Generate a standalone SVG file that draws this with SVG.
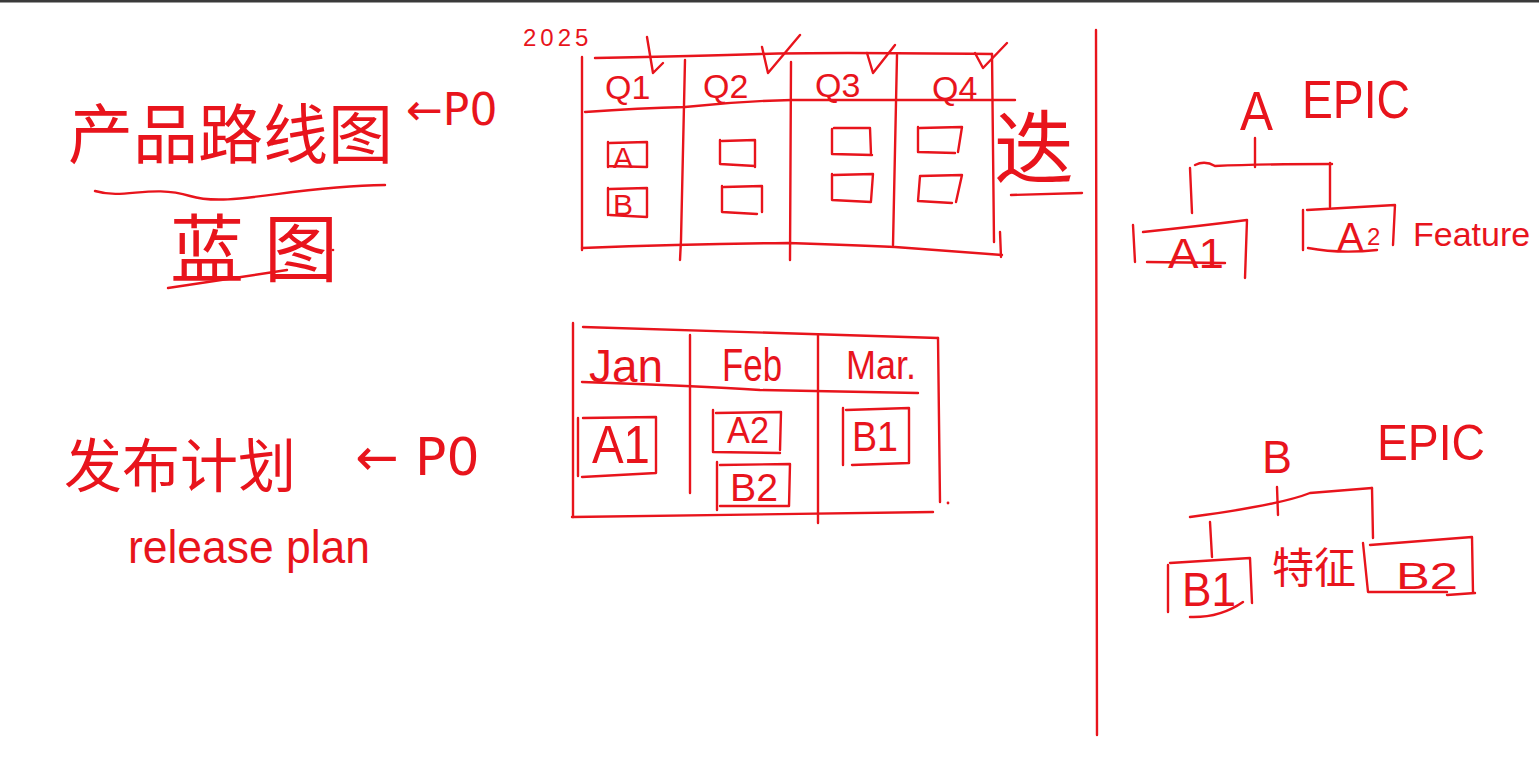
<svg xmlns="http://www.w3.org/2000/svg" width="1539" height="766" viewBox="0 0 1539 766">
<style>
.s{fill:none;stroke:#e8141c;stroke-width:2.4;stroke-linecap:round;stroke-linejoin:round}
.t{fill:#e8141c;font-family:"Liberation Sans",Arial,sans-serif}
.c{fill:#e8141c;font-family:"Noto Sans CJK SC","Noto Sans CJK TC",sans-serif;font-weight:400}
.d{fill:#e8141c;font-family:"DejaVu Sans",sans-serif}
</style>
<rect x="0" y="0" width="1539" height="766" fill="#ffffff"/>
<rect x="0" y="0" width="1539" height="2.5" fill="#3a3a3a"/>

<g id="divider">
<path class="s" d="M1096,30 L1097,735"/>
</g>

<g id="roadmap-title">
<text class="c" x="68" y="158" font-size="65" letter-spacing="0">产品路线图</text>
<path class="s" d="M95,191 C125,200 150,184 190,196 S290,186 385,185"/>
<text class="d" x="406" y="125" font-size="44">←P0</text>
<text class="c" x="170" y="276" font-size="74" letter-spacing="20">蓝图</text>
<path class="s" d="M168,288 L287,270"/>
<circle cx="333" cy="250" r="1.3" fill="#e8141c"/>
</g>

<g id="release-title">
<text class="c" x="64" y="487" font-size="58">发布计划</text>
<text class="d" x="355" y="475" font-size="52">← P0</text>
<text class="t" x="128" y="563" font-size="46" textLength="242" lengthAdjust="spacingAndGlyphs">release plan</text>
</g>

<g id="quarter-table">
<text class="t" x="523" y="46" font-size="24" letter-spacing="4">2025</text>
<path class="s" d="M582,57 L582,250"/>
<path class="s" d="M595,58 Q700,56 760,54 T992,54"/>
<path class="s" d="M992,54 L994,242"/>
<path class="s" d="M1000,232 L1001,257"/>
<path class="s" d="M585,112 Q640,108 685,107 Q740,101 792,100 L1015,100"/>
<path class="s" d="M685,60 L681,240 L680,260"/>
<path class="s" d="M791,62 L790,260"/>
<path class="s" d="M897,55 L893,245"/>
<path class="s" d="M582,248 Q690,244 788,243 Q850,245 895,247 L1002,255"/>
<text class="t" x="605" y="99" font-size="34">Q1</text>
<text class="t" x="703" y="98" font-size="34">Q2</text>
<text class="t" x="815" y="97" font-size="34">Q3</text>
<text class="t" x="932" y="100" font-size="34">Q4</text>
<path class="s" d="M647,37 L653,73 L663,63"/>
<path class="s" d="M762,47 L768,73 L800,35"/>
<path class="s" d="M867,53 L873,73 L895,45"/>
<path class="s" d="M975,53 L983,68 L1007,43"/>
<path class="s" d="M608,142 L608,167 M610,143 L647,142 L647,167 L608,166"/>
<text class="t" x="613" y="168" font-size="30">A</text>
<path class="s" d="M608,188 L608,215 M610,189 L647,188 L647,217 L610,215"/>
<text class="t" x="613" y="215" font-size="30">B</text>
<path class="s" d="M720,140 L720,164 L755,166 M722,141 L755,140 L755,167"/>
<path class="s" d="M722,186 L722,212 L757,214 M724,187 L762,186 L762,212"/>
<path class="s" d="M832,129 L832,154 L872,155 M834,128 L870,128 L871,154"/>
<path class="s" d="M832,174 L832,200 L871,202 M834,175 L873,174 L871,201"/>
<path class="s" d="M918,127 L918,152 L955,153 M920,128 L962,127 L958,152"/>
<path class="s" d="M920,176 L918,201 L952,203 M920,176 L962,175 L956,202"/>
<text class="c" x="994" y="177" font-size="80">迭</text>
<path class="s" d="M1011,195 L1082,193"/>
</g>

<g id="month-table">
<path class="s" d="M573,323 L573,517"/>
<path class="s" d="M583,327 L938,338"/>
<path class="s" d="M938,338 L940,502"/>
<path class="s" d="M572,517 L933,512"/>
<path class="s" d="M582,382 Q700,386 760,390 L918,393"/>
<path class="s" d="M690,335 L690,493"/>
<path class="s" d="M818,335 L818,523"/>
<circle cx="948" cy="503" r="1.4" fill="#e8141c"/>
<text class="t" x="589" y="382" font-size="46" textLength="74" lengthAdjust="spacingAndGlyphs">Jan</text>
<text class="t" x="722" y="381" font-size="46" textLength="60" lengthAdjust="spacingAndGlyphs">Feb</text>
<text class="t" x="846" y="379" font-size="40" textLength="70" lengthAdjust="spacingAndGlyphs">Mar.</text>
<path class="s" d="M578,418 L578,476 M583,418 L656,417 L656,473 L582,477"/>
<text class="t" x="592" y="463" font-size="54" textLength="58" lengthAdjust="spacingAndGlyphs">A1</text>
<path class="s" d="M713,410 L713,452 L780,453 M716,413 L781,412 L780,450"/>
<text class="t" x="727" y="443" font-size="36" textLength="42" lengthAdjust="spacingAndGlyphs">A2</text>
<path class="s" d="M717,462 L717,510 M720,465 L790,464 L789,506 L720,506"/>
<text class="t" x="730" y="501" font-size="38" textLength="48" lengthAdjust="spacingAndGlyphs">B2</text>
<path class="s" d="M843,408 L843,465 M846,410 L909,408 L909,463 L852,465"/>
<text class="t" x="852" y="451" font-size="42" textLength="46" lengthAdjust="spacingAndGlyphs">B1</text>
</g>

<g id="connectors">
<path class="s" d="M1255,138 L1255,167"/>
<path class="s" d="M1195,165 Q1205,160 1215,166 Q1260,164 1332,164"/>
<path class="s" d="M1190,168 L1192,213"/>
<path class="s" d="M1330,163 L1330,207"/>
<path class="s" d="M1190,517 Q1280,505 1310,493 L1372,488"/>
<path class="s" d="M1277,487 L1278,515"/>
<path class="s" d="M1210,522 L1212,557"/>
<path class="s" d="M1372,488 L1373,538"/>
</g>

<g id="epic-a">
<text class="t" x="1240" y="130" font-size="56" textLength="33" lengthAdjust="spacingAndGlyphs">A</text>
<text class="t" x="1302" y="118" font-size="54" textLength="108" lengthAdjust="spacingAndGlyphs">EPIC</text>
</g>

<g id="feature-a1">
<path class="s" d="M1133,225 L1135,262 M1143,232 Q1200,226 1247,220 L1245,278"/>
<path class="s" d="M1147,262 L1225,263"/>
<text class="t" x="1168" y="268" font-size="42" textLength="56" lengthAdjust="spacingAndGlyphs">A1</text>
</g>

<g id="feature-a2">
<path class="s" d="M1303,210 L1303,250 M1307,210 L1395,205 L1393,245 M1308,248 Q1340,254 1377,250"/>
<text class="t" x="1337" y="251" font-size="40">A</text>
<text class="t" x="1367" y="245" font-size="24">2</text>
<text class="t" x="1413" y="246" font-size="34">Feature</text>
</g>

<g id="epic-b">
<text class="t" x="1262" y="473" font-size="46" textLength="30" lengthAdjust="spacingAndGlyphs">B</text>
<text class="t" x="1377" y="460" font-size="50" textLength="108" lengthAdjust="spacingAndGlyphs">EPIC</text>
</g>

<g id="feature-b1">
<path class="s" d="M1168,565 L1168,612 M1170,563 L1250,558 L1252,603 M1190,617 Q1220,618 1243,602"/>
<text class="t" x="1182" y="606" font-size="48" textLength="54" lengthAdjust="spacingAndGlyphs">B1</text>
</g>

<g id="feature-label">
<text class="c" x="1272" y="583" font-size="42">特征</text>
</g>

<g id="feature-b2">
<path class="s" d="M1363,543 L1368,592 L1447,592 M1370,545 L1472,537 L1473,593 M1447,595 L1475,593"/>
<text class="t" x="1396" y="589" font-size="36" textLength="62" lengthAdjust="spacingAndGlyphs">B2</text>
</g>
</svg>
